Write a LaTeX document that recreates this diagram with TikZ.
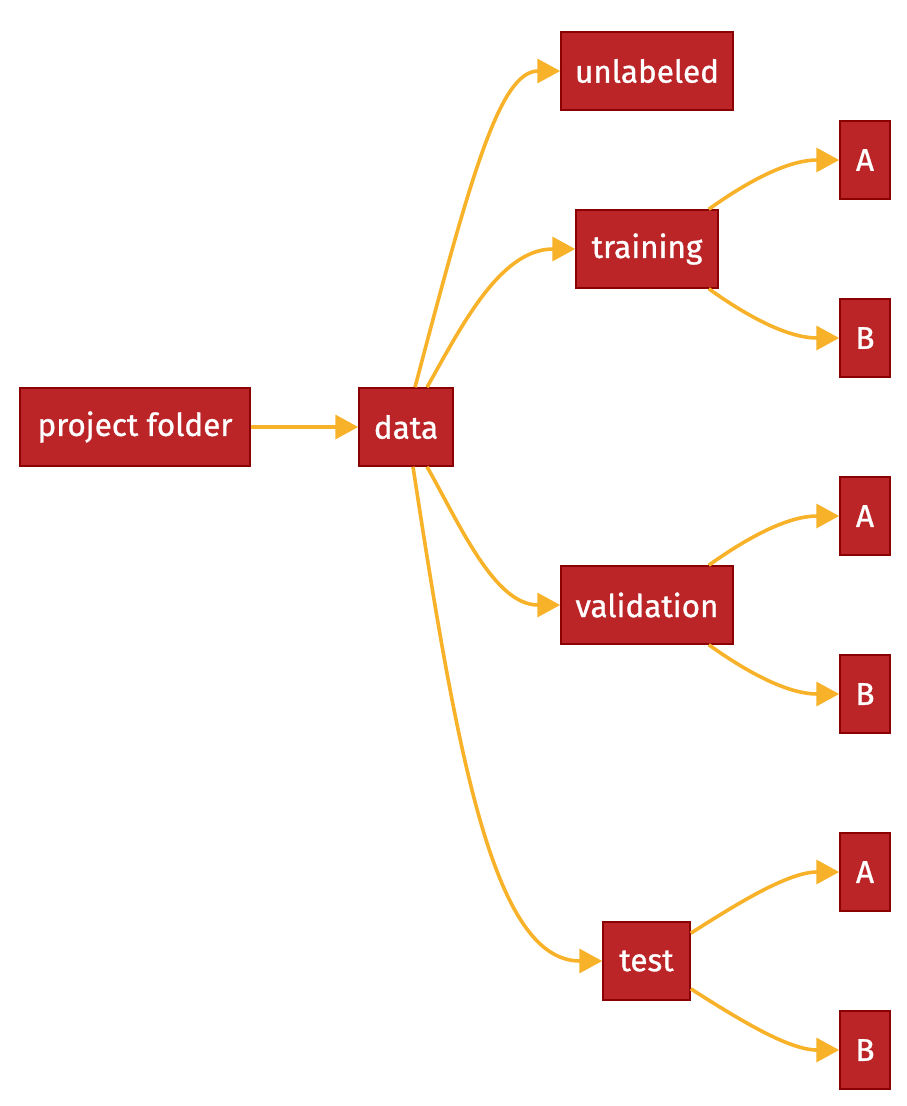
\documentclass[tikz,border=0pt]{standalone}
\usepackage{fontspec}
\setmainfont{Fira Sans}[FakeBold=0.9]
\usetikzlibrary{arrows.meta}
\definecolor{boxfill}{HTML}{BB2528}
\definecolor{boxline}{HTML}{8B0000}
\definecolor{edgecol}{HTML}{F8B229}
\begin{document}
\begin{tikzpicture}[x=1pt,y=-1pt,
  box/.style={draw=boxline,fill=boxfill,line width=1.5pt,text=white,
    minimum height=78pt,inner sep=0pt,font=\fontsize{31.5}{36}\selectfont},
  edge/.style={draw=edgecol,line width=3.6pt,-{Triangle[length=23pt,width=24pt]}}]
\useasboundingbox (0,0) rectangle (906,1106);
\node[box,minimum width=230pt] (pf) at (135,427) {project folder};
\node[box,minimum width=94pt] (data) at (406,427) {data};
\node[box,minimum width=172pt] (unl) at (647,71) {unlabeled};
\node[box,minimum width=142pt] (train) at (647,249) {training};
\node[box,minimum width=172pt] (val) at (647,605) {validation};
\node[box,minimum width=87pt] (test) at (646.5,961) {test};
\node[box,minimum width=50pt] (a1) at (865,160) {A};
\node[box,minimum width=50pt] (b1) at (865,338) {B};
\node[box,minimum width=50pt] (a2) at (865,516) {A};
\node[box,minimum width=50pt] (b2) at (865,694) {B};
\node[box,minimum width=50pt] (a3) at (865,872) {A};
\node[box,minimum width=50pt] (b3) at (865,1050) {B};
\draw[edge] (pf.east) -- (data.west);
\draw[edge] ([xshift=9pt]data.north) .. controls +(55,-208) and +(-61,0) .. (unl.west);
\draw[edge] ([xshift=21pt]data.north) .. controls +(33,-58) and +(-76,0) .. (train.west);
\draw[edge] ([xshift=21pt]data.south) .. controls +(33,58) and +(-66,0) .. (val.west);
\draw[edge] ([xshift=7pt]data.south) .. controls +(45,294) and +(-108,0) .. (test.west);
\draw[edge] ([xshift=-10pt]train.north east) .. controls +(42,-30) and +(-50,0) .. (a1.west);
\draw[edge] ([xshift=-10pt]train.south east) .. controls +(42,30) and +(-50,0) .. (b1.west);
\draw[edge] ([xshift=-25pt]val.north east) .. controls +(42,-30) and +(-50,0) .. (a2.west);
\draw[edge] ([xshift=-25pt]val.south east) .. controls +(42,30) and +(-50,0) .. (b2.west);
\draw[edge] ([yshift=-12pt]test.north east) .. controls +(50,-32) and +(-50,0) .. (a3.west);
\draw[edge] ([yshift=12pt]test.south east) .. controls +(50,32) and +(-50,0) .. (b3.west);
\end{tikzpicture}
\end{document}
